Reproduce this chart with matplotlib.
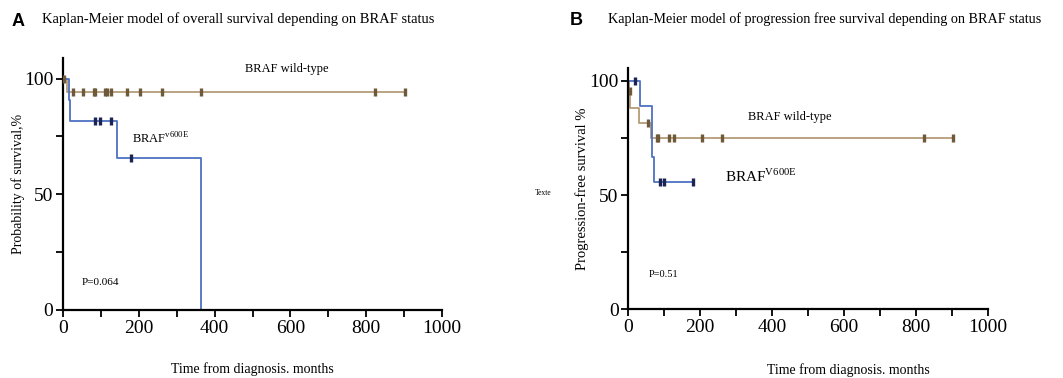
import numpy as np
import matplotlib.pyplot as plt

plt.rcParams['font.family'] = 'Liberation Serif'

# Panel A - overall survival
os_wt_t = [0, 10, 902]
os_wt_s = [100, 94.4, 94.4]
os_wt_cens = [3, 27, 52, 82, 85, 110, 115, 126, 170, 203, 260, 364, 823, 902]
os_mut_t = [0, 17, 19, 143, 365]
os_mut_s = [100, 90.9, 81.8, 65.5, 0]
os_mut_cens = [84, 97, 127, 179]

# Panel B - progression free survival
pfs_wt_t = [0, 2, 6, 30, 63, 903]
pfs_wt_s = [100, 95.5, 88, 81.5, 75, 75]
pfs_wt_cens = [4, 56, 80, 84, 113, 126, 204, 262, 824, 903]
pfs_mut_t = [0, 32, 65, 72, 179]
pfs_mut_s = [100, 88.9, 66.7, 55.6, 55.6]
pfs_mut_cens = [18, 88, 100, 179]

x_ticks = list(range(0, 1001, 100))
x_labels = [str(v) if v % 200 == 0 else '' for v in x_ticks]
y_ticks = [0, 25, 50, 75, 100]
y_labels = ['0', '', '50', '', '100']

wt_line, wt_mark = '#b59c78', '#6e5a3a'
mut_line, mut_mark = '#4d72c2', '#1b2452'


def level_at(times, surv, t):
    i = np.searchsorted(times, t, side='right') - 1
    return surv[max(i, 0)]


def km(ax, times, surv, cens, lc, mc):
    ax.step(times, surv, where='post', color=lc, lw=1.3, clip_on=False, zorder=2)
    ys = [level_at(times, surv, c) for c in cens]
    ax.plot(cens, ys, ls='none', marker='|', ms=6, mew=2.4, color=mc, zorder=3, clip_on=False)


def style(ax, top):
    ax.set_xlim(0, 1000)
    ax.set_ylim(0, top)
    for s in ['top', 'right']:
        ax.spines[s].set_visible(False)
    for s in ['left', 'bottom']:
        ax.spines[s].set_linewidth(1.6)
    ax.set_xticks(x_ticks)
    ax.set_xticklabels(x_labels)
    ax.set_yticks(y_ticks)
    ax.set_yticklabels(y_labels)
    ax.tick_params(labelsize=14, length=5, width=1.3, pad=2)


fig = plt.figure(figsize=(10.63, 3.78), dpi=100)
axA = fig.add_axes([0.0593, 0.180, 0.3565, 0.667])
axB = fig.add_axes([0.591, 0.1825, 0.338, 0.6376])

km(axA, os_wt_t, os_wt_s, os_wt_cens, wt_line, wt_mark)
km(axA, os_mut_t, os_mut_s, os_mut_cens, mut_line, mut_mark)
style(axA, 109)
axA.set_ylabel('Probability of survival,%', fontsize=10, labelpad=-1)
axA.text(590, 104, 'BRAF wild-type', fontsize=9, ha='center', va='center')
axA.text(181, 74, r'BRAF$^{\mathregular{v600E}}$', fontsize=9, ha='left', va='center')
axA.text(49, 12, 'P=0.064', fontsize=8, ha='left', va='center')
axA.text(0.5, -0.235, 'Time from diagnosis. months', transform=axA.transAxes,
         fontsize=10, ha='center', va='center')

km(axB, pfs_wt_t, pfs_wt_s, pfs_wt_cens, wt_line, wt_mark)
km(axB, pfs_mut_t, pfs_mut_s, pfs_mut_cens, mut_line, mut_mark)
style(axB, 105.7)
axB.set_ylabel('Progression-free survival %', fontsize=10.5, labelpad=0)
axB.text(332, 84, 'BRAF wild-type', fontsize=9, ha='left', va='center')
axB.text(269, 58, r'BRAF$^{\mathregular{V600E}}$', fontsize=11, ha='left', va='center')
axB.text(56, 15, 'P=0.51', fontsize=7.5, ha='left', va='center')
axB.text(614, -27, 'Time from diagnosis. months', fontsize=10,
         ha='center', va='center')

fig.text(0.0113, 0.942, 'A', fontsize=13, fontweight='bold', family='Liberation Sans', va='center')
fig.text(0.0395, 0.950, 'Kaplan-Meier model of overall survival depending on BRAF status',
         fontsize=10.5, va='center')
fig.text(0.536, 0.945, 'B', fontsize=13, fontweight='bold', family='Liberation Sans', va='center')
fig.text(0.572, 0.950, 'Kaplan-Meier model of progression free survival depending on BRAF status',
         fontsize=10.2, va='center')
fig.text(0.503, 0.489, 'Texte', fontsize=5.5, va='center')

fig.savefig('out.png', dpi=100)
